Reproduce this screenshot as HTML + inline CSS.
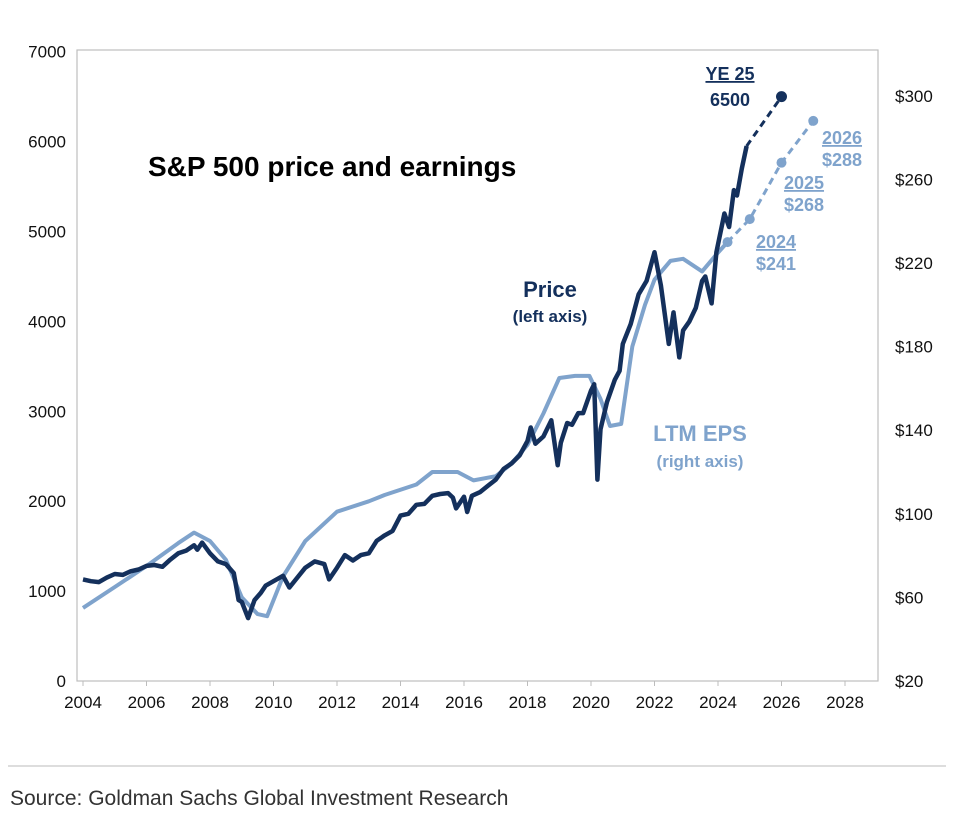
<!DOCTYPE html>
<html><head><meta charset="utf-8"><style>
html,body{margin:0;padding:0;background:#fff;}
body{width:975px;height:828px;overflow:hidden;font-family:"Liberation Sans",Arial,sans-serif;}
</style></head><body>
<svg id="chart" width="975" height="828" viewBox="0 0 975 828" xmlns="http://www.w3.org/2000/svg" font-family="Liberation Sans, Arial, sans-serif"></svg>
<script>
const priceDates=[2004,2004.25,2004.5,2004.75,2005,2005.25,2005.5,2005.75,2006,2006.25,2006.5,2006.75,2007,2007.25,2007.5,2007.6,2007.75,2008,2008.25,2008.5,2008.75,2008.9,2009,2009.2,2009.4,2009.6,2009.75,2010,2010.3,2010.5,2010.75,2011,2011.3,2011.6,2011.75,2012,2012.25,2012.5,2012.75,2013,2013.25,2013.5,2013.75,2014,2014.25,2014.5,2014.75,2015,2015.25,2015.5,2015.65,2015.75,2016,2016.1,2016.25,2016.5,2016.75,2017,2017.25,2017.5,2017.75,2018,2018.1,2018.25,2018.5,2018.75,2018.95,2019.05,2019.25,2019.4,2019.6,2019.75,2020,2020.1,2020.2,2020.3,2020.5,2020.75,2020.9,2021,2021.25,2021.5,2021.75,2022,2022.2,2022.45,2022.6,2022.78,2022.9,2023.1,2023.3,2023.5,2023.6,2023.8,2023.95,2024.2,2024.35,2024.5,2024.6,2024.75,2024.9];
const priceValues=[1130,1110,1100,1150,1190,1180,1220,1240,1280,1290,1270,1350,1420,1450,1510,1460,1540,1420,1330,1300,1200,900,880,700,900,980,1060,1110,1170,1040,1150,1260,1330,1300,1130,1260,1400,1340,1400,1420,1560,1620,1670,1840,1860,1960,1970,2060,2080,2090,2040,1920,2050,1880,2060,2100,2170,2240,2360,2420,2510,2670,2820,2640,2720,2900,2400,2650,2870,2850,2980,2980,3230,3300,2240,2800,3100,3350,3450,3750,3970,4300,4450,4770,4400,3750,4100,3600,3900,4000,4150,4450,4500,4200,4770,5200,5050,5460,5400,5700,5950];
const epsDates=[2004,2005,2006,2007,2007.5,2008,2008.5,2009,2009.5,2009.8,2010.3,2011,2012,2013,2013.5,2014.5,2015,2015.8,2016.3,2017,2017.5,2018,2018.5,2019,2019.5,2019.95,2020.3,2020.6,2020.95,2021.3,2021.7,2022,2022.5,2022.9,2023.5,2024,2024.3];
const epsValues=[55,65,75,86,91,87,78,60,52,51,70,87,101,106,109,114,120,120,116,118,124,133,148,165,166,166,155,142,143,180,200,212,221,222,216,225,230];
const priceForecastDates=[2024.9,2026];
const priceForecastValues=[5950,6500];
const epsForecastDates=[2024.3,2025,2026,2027];
const epsForecastValues=[230,241,268,288];
const leftTicks=[0,1000,2000,3000,4000,5000,6000,7000];
const rightTicks=[20,60,100,140,180,220,260,300];
const xTicks=[2004,2006,2008,2010,2012,2014,2016,2018,2020,2022,2024,2026,2028];

const svg=document.getElementById('chart');
const NS='http://www.w3.org/2000/svg';
const PL=83,PR=878,PT=50,PB=681;
const x=y=>83+(y-2004)*31.75;
const yL=v=>681-v*0.0899;
const yR=v=>681-(v-20)*2.09;
function mk(tag,attrs,parent){const e=document.createElementNS(NS,tag);for(const k in attrs)e.setAttribute(k,attrs[k]);(parent||svg).appendChild(e);return e;}
function txt(s,attrs,name){const e=mk('text',attrs);e.textContent=s;


return e;}

const frame=mk('rect',{x:PL-6,y:PT,width:PR-PL+6,height:PB-PT,fill:'none',stroke:'#bdbdbd','stroke-width':1.2});



leftTicks.forEach(v=>{txt(String(v),{x:66,y:yL(v)+6,'text-anchor':'end','font-size':17,fill:'#111'},'left-tick-label');});
rightTicks.forEach(v=>{txt('$'+v,{x:895,y:yR(v)+6,'font-size':17,fill:'#111'},'right-tick-label');});
xTicks.forEach(v=>{txt(String(v),{x:x(v),y:708,'text-anchor':'middle','font-size':17,fill:'#111'},'x-tick-label');
const t=mk('line',{x1:x(v),x2:x(v),y1:PB,y2:PB+5,stroke:'#bdbdbd'});

});

function path(ds,vs,fy){return ds.map((d,i)=>(i?'L':'M')+x(d).toFixed(1)+','+fy(vs[i]).toFixed(1)).join(' ');}
const eps=mk('path',{d:path(epsDates,epsValues,yR),fill:'none',stroke:'#7fa3cc','stroke-width':4,'stroke-linejoin':'round'});


const pr=mk('path',{d:path(priceDates,priceValues,yL),fill:'none',stroke:'#14305c','stroke-width':4.5,'stroke-linejoin':'round'});


const epsF=mk('path',{d:path(epsForecastDates,epsForecastValues,yR),fill:'none',stroke:'#7fa3cc','stroke-width':3,'stroke-dasharray':'7 5'});


epsForecastDates.forEach((d,i)=>{const c=mk('circle',{cx:x(d),cy:yR(epsForecastValues[i]),r:5,fill:'#7fa3cc'});

});
const prF=mk('path',{d:path(priceForecastDates,priceForecastValues,yL),fill:'none',stroke:'#14305c','stroke-width':3,'stroke-dasharray':'7 5'});


const pc=mk('circle',{cx:x(2026),cy:yL(6500),r:5.5,fill:'#14305c'});



txt('S&P 500 price and earnings',{x:148,y:176,'font-size':28,'font-weight':'bold',fill:'#000'},'chart-title');
txt('YE 25',{x:730,y:80,'text-anchor':'middle','font-size':18,'font-weight':'bold',fill:'#14305c','text-decoration':'underline'},'ye25-label');
txt('6500',{x:730,y:106,'text-anchor':'middle','font-size':18,'font-weight':'bold',fill:'#14305c'},'ye25-value');
txt('Price',{x:550,y:297,'text-anchor':'middle','font-size':22,'font-weight':'bold',fill:'#14305c'},'price-label');
txt('(left axis)',{x:550,y:322,'text-anchor':'middle','font-size':17,'font-weight':'bold',fill:'#14305c'},'price-axis-note');
txt('LTM EPS',{x:700,y:441,'text-anchor':'middle','font-size':22,'font-weight':'bold',fill:'#7fa3cc'},'eps-label');
txt('(right axis)',{x:700,y:467,'text-anchor':'middle','font-size':17,'font-weight':'bold',fill:'#7fa3cc'},'eps-axis-note');
const lab=[['2026','$288',842,144],['2025','$268',804,189],['2024','$241',776,248]];
lab.forEach(l=>{txt(l[0],{x:l[2],y:l[3],'text-anchor':'middle','font-size':18,'font-weight':'bold',fill:'#7fa3cc','text-decoration':'underline'},'eps-forecast-year');
txt(l[1],{x:l[2],y:l[3]+22,'text-anchor':'middle','font-size':18,'font-weight':'bold',fill:'#7fa3cc'},'eps-forecast-value');});

const sep=mk('line',{x1:8,x2:946,y1:766,y2:766,stroke:'#bbb','stroke-width':1});


txt('Source: Goldman Sachs Global Investment Research',{x:10,y:805,'font-size':21,fill:'#333'},'source-note');
</script>
</body></html>
